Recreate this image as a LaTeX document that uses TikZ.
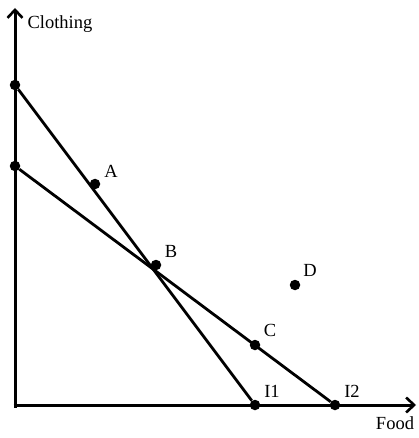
\documentclass[tikz,border=0pt]{standalone}
\usepackage{fontspec}
\setmainfont{Liberation Serif}
\usetikzlibrary{arrows.meta}
\begin{document}
\begin{tikzpicture}[x=1pt,y=-1pt,
  axis/.style={line width=3pt,-{Straight Barb[length=8pt,width=15pt,line width=2.6pt]}},
  budget/.style={line width=2.8pt},
  pt/.style={circle,fill=black,inner sep=0pt,minimum size=10.5pt},
  lbl/.style={font=\fontsize{18.5}{20}\selectfont,inner sep=0pt}]
\useasboundingbox (0,0) rectangle (418,438);
\coordinate (yend) at (15,8);
\coordinate (xend) at (416,405);
\draw[axis] (15,407.5) -- (yend);
\draw[axis] (13.5,405) -- (xend);
\node[pt] (t1) at (15,85) {};
\node[pt] (t2) at (15,166) {};
\node[pt] (i1) at (255,405) {};
\node[pt] (i2) at (335,405) {};
\draw[budget] (t1) -- (i1);
\draw[budget] (t2) -- (i2);
\node[pt] (a) at (95,184) {};
\node[pt] (b) at (156,265) {};
\node[pt] (c) at (255,345) {};
\node[pt] (d) at (295,285) {};
\node[lbl] (la) at (111,171) {A};
\node[lbl] (lb) at (171,251) {B};
\node[lbl] (lc) at (270,330) {C};
\node[lbl] (ld) at (310,270) {D};
\node[lbl] (li1) at (272,391) {I1};
\node[lbl] (li2) at (352,391) {I2};
\node[lbl] (lfood) at (395,423) {Food};
\node[lbl] (lcloth) at (60,24) {Clothing};
\end{tikzpicture}
\end{document}
